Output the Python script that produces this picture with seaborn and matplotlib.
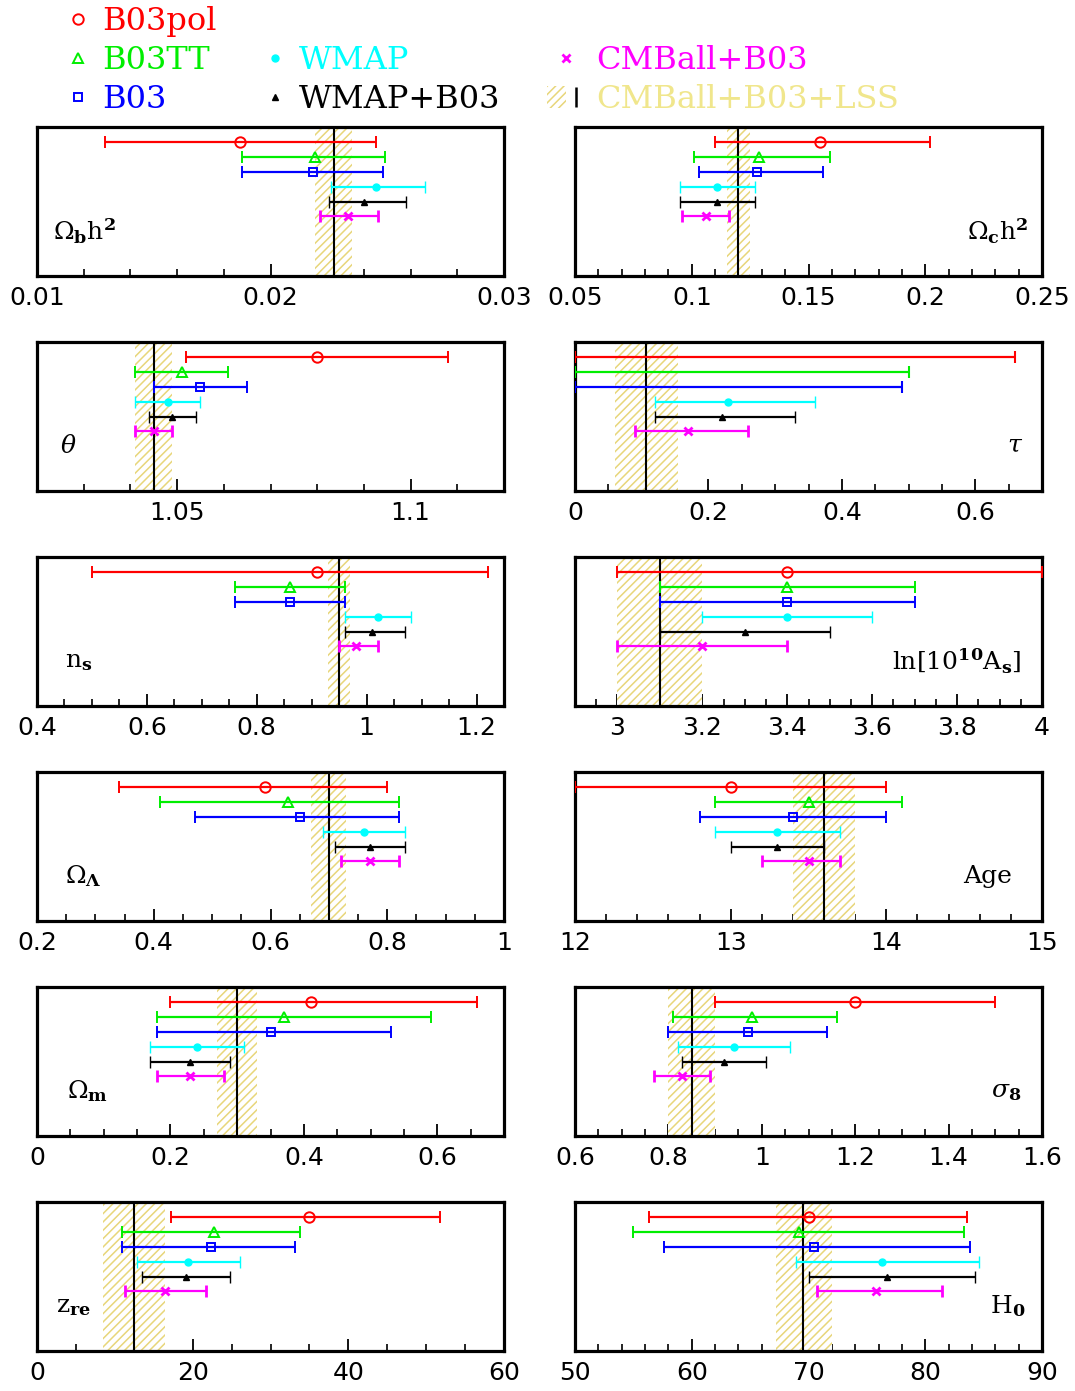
import numpy as np
import matplotlib
matplotlib.use("Agg")
import matplotlib.pyplot as plt
import seaborn as sns
from matplotlib import ticker
from matplotlib.lines import Line2D
from matplotlib.patches import Patch
from matplotlib.legend_handler import HandlerTuple

sns.set_theme(style="white")
plt.rcParams['font.family'] = ['DejaVu Sans']
plt.rcParams['mathtext.fontset'] = 'dejavuserif'
plt.rcParams['hatch.linewidth'] = 1.1

# parameters, one panel each (left column first, row by row)
labels = ['Ω$_{\\mathbf{b}}$h$^{\\mathbf{2}}$', 'Ω$_{\\mathbf{c}}$h$^{\\mathbf{2}}$',
          r'$\theta$', r'$\tau$',
          'n$_{\\mathbf{s}}$', 'ln[10$^{\\mathbf{10}}$A$_{\\mathbf{s}}$]',
          'Ω$_{\\mathbf{\\Lambda}}$', 'Age',
          'Ω$_{\\mathbf{m}}$', r'$\sigma_{\mathbf{8}}$',
          'z$_{\\mathbf{re}}$', 'H$_{\\mathbf{0}}$']
xlims = [(0.01, 0.03), (0.05, 0.25), (1.02, 1.12), (0.0, 0.7), (0.4, 1.25), (2.9, 4.0),
         (0.2, 1.0), (12, 15), (0.0, 0.7), (0.6, 1.6), (0, 60), (50, 90)]
major_step = [0.01, 0.05, 0.05, 0.2, 0.2, 0.2, 0.2, 1, 0.2, 0.2, 20, 10]
minor_step = [0.002, 0.01, 0.01, 0.05, 0.05, 0.05, 0.05, 0.2, 0.05, 0.05, 5, 2]

nan = np.nan
# lower end / best value / upper end of each dataset, one entry per parameter
b03pol_lo = [0.0129, 0.110, 1.052, 0.0, 0.50, 3.0, 0.34, 12.0, 0.20, 0.90, 17.2, 56.3]
b03pol_mid = [0.0187, 0.155, 1.080, nan, 0.91, 3.4, 0.59, 13.0, 0.41, 1.20, 35.0, 70.0]
b03pol_hi = [0.0245, 0.202, 1.108, 0.66, 1.22, 4.0, 0.80, 14.0, 0.66, 1.50, 51.8, 83.6]
b03tt_lo = [0.0188, 0.101, 1.041, 0.0, 0.76, 3.1, 0.41, 12.9, 0.18, 0.81, 10.9, 55.0]
b03tt_mid = [0.0219, 0.129, 1.051, nan, 0.86, 3.4, 0.63, 13.5, 0.37, 0.98, 22.7, 69.2]
b03tt_hi = [0.0249, 0.159, 1.061, 0.50, 0.96, 3.7, 0.82, 14.1, 0.59, 1.16, 33.8, 83.3]
b03_lo = [0.0188, 0.103, 1.045, 0.0, 0.76, 3.1, 0.47, 12.8, 0.18, 0.80, 10.9, 57.6]
b03_mid = [0.0218, 0.128, 1.055, nan, 0.86, 3.4, 0.65, 13.4, 0.35, 0.97, 22.4, 70.5]
b03_hi = [0.0248, 0.156, 1.065, 0.49, 0.96, 3.7, 0.82, 14.0, 0.53, 1.14, 33.1, 83.8]
wmap_lo = [0.0226, 0.095, 1.041, 0.12, 0.96, 3.2, 0.69, 12.9, 0.17, 0.82, 12.8, 68.9]
wmap_mid = [0.0245, 0.111, 1.048, 0.23, 1.02, 3.4, 0.76, 13.3, 0.24, 0.94, 19.4, 76.3]
wmap_hi = [0.0266, 0.127, 1.055, 0.36, 1.08, 3.6, 0.83, 13.7, 0.31, 1.06, 26.1, 84.6]
wmapb03_lo = [0.0225, 0.095, 1.044, 0.12, 0.96, 3.1, 0.71, 13.0, 0.17, 0.83, 13.5, 70.0]
wmapb03_mid = [0.0240, 0.111, 1.049, 0.22, 1.01, 3.3, 0.77, 13.3, 0.23, 0.92, 19.2, 76.7]
wmapb03_hi = [0.0258, 0.127, 1.054, 0.33, 1.07, 3.5, 0.83, 13.6, 0.29, 1.01, 24.8, 84.3]
cmball_lo = [0.0221, 0.096, 1.041, 0.09, 0.95, 3.0, 0.72, 13.2, 0.18, 0.77, 11.3, 70.7]
cmball_mid = [0.0233, 0.106, 1.045, 0.17, 0.98, 3.2, 0.77, 13.5, 0.23, 0.83, 16.4, 75.8]
cmball_hi = [0.0246, 0.116, 1.049, 0.26, 1.02, 3.4, 0.82, 13.7, 0.28, 0.89, 21.7, 81.4]
# CMBall+B03+LSS: hatched band and best value line
lss_lo = [0.0219, 0.115, 1.041, 0.06, 0.93, 3.0, 0.67, 13.4, 0.27, 0.80, 8.5, 67.2]
lss_mid = [0.0227, 0.120, 1.045, 0.107, 0.95, 3.1, 0.70, 13.6, 0.30, 0.85, 12.4, 69.5]
lss_hi = [0.0235, 0.125, 1.049, 0.155, 0.97, 3.2, 0.73, 13.8, 0.33, 0.90, 16.4, 72.0]

series = [
    ("B03pol", b03pol_lo, b03pol_mid, b03pol_hi, "#ff0000", "o", 7.5, "none", 1.4),
    ("B03TT", b03tt_lo, b03tt_mid, b03tt_hi, "#00ee00", "^", 7.5, "none", 1.4),
    ("B03", b03_lo, b03_mid, b03_hi, "#0000ff", "s", 6, "none", 1.4),
    ("WMAP", wmap_lo, wmap_mid, wmap_hi, "#00ffff", "o", 5, "#00ffff", 1),
    ("WMAP+B03", wmapb03_lo, wmapb03_mid, wmapb03_hi, "black", "^", 4, "black", 1),
    ("CMBall+B03", cmball_lo, cmball_mid, cmball_hi, "#ff00ff", "x", 6, "#ff00ff", 2),
]
hatch_col = "#e8d67a"
lss_text = "#f0e68c"

fig = plt.figure(figsize=(10.75, 13.91), dpi=100)
W, H = 1075, 1391
axes = []
for k in range(12):
    row, col = divmod(k, 2)
    x0 = 37 if col == 0 else 575
    top = 127 + 215 * row
    axes.append(fig.add_axes([x0 / W, 1 - (top + 149) / H, 467 / W, 149 / H]))

fmt = ticker.FuncFormatter(lambda v, p: f"{round(v, 6):g}")
label_x = [0.035, 0.97, 0.05, 0.96, 0.06, 0.955, 0.06, 0.935, 0.065, 0.955, 0.04, 0.965]

for k, ax in enumerate(axes):
    ax.axvspan(lss_lo[k], lss_hi[k], facecolor="white", edgecolor=hatch_col,
               hatch="////", lw=0, zorder=1)
    ax.axvline(lss_mid[k], color="black", lw=1.5, zorder=2)
    for j, (name, lo, mid, hi, c, m, ms, mfc, mew) in enumerate(series):
        y = 9 - j
        if np.isnan(mid[k]):
            ax.errorbar(hi[k], y, xerr=[[hi[k] - lo[k]], [0]], fmt="none", ecolor=c,
                        elinewidth=1.6, capsize=4, capthick=1.5, zorder=3)
        else:
            ax.errorbar(mid[k], y, xerr=[[mid[k] - lo[k]], [hi[k] - mid[k]]], fmt=m,
                        color=c, ms=ms, mfc=mfc, mew=mew, elinewidth=1.6, capsize=4,
                        capthick=1.5, zorder=3)
    ax.set_xlim(*xlims[k])
    ax.set_ylim(0, 10)
    ax.set_yticks([])
    ax.xaxis.set_major_locator(ticker.MultipleLocator(major_step[k]))
    ax.xaxis.set_minor_locator(ticker.MultipleLocator(minor_step[k]))
    ax.xaxis.set_major_formatter(fmt)
    ax.tick_params(axis="x", which="both", direction="in", bottom=True, top=False,
                   colors="black", labelsize=18, pad=7)
    ax.tick_params(axis="x", which="major", length=9, width=1.3)
    ax.tick_params(axis="x", which="minor", length=5, width=1.2)
    for sp in ax.spines.values():
        sp.set_color("black")
        sp.set_linewidth(2.3)
    right = k % 2 == 1
    ax.text(label_x[k], 0.30, labels[k], transform=ax.transAxes,
            ha="right" if right else "left", va="center", fontsize=18,
            family="DejaVu Serif", color="black")

# legend in three columns
handles = []
for name, lo, mid, hi, c, m, ms, mfc, mew in series:
    handles.append(Line2D([], [], ls="none", marker=m, color=c, ms=ms, mfc=mfc, mew=mew))
blank = Line2D([], [], ls="none")
lss_handle = (Patch(facecolor="white", edgecolor=hatch_col, hatch="////", lw=0),
              Line2D([], [], ls="none", marker="|", color="black", ms=14, mew=1.8))

cols = [
    ([handles[0], handles[1], handles[2]], ["B03pol", "B03TT", "B03"],
     ["#ff0000", "#00ee00", "#0000ff"], 65, 0.8),
    ([blank, handles[3], handles[4]], ["", "WMAP", "WMAP+B03"],
     ["black", "#00ffff", "black"], 262, 0.8),
    ([blank, handles[5], lss_handle], ["", "CMBall+B03", "CMBall+B03+LSS"],
     ["black", "#ff00ff", lss_text], 547, 1.2),
]
for hs, labs, tcols, xpx, hl in cols:
    leg = fig.legend(hs, labs, loc="upper left", bbox_to_anchor=(xpx / W, 1 - 6 / H),
                     frameon=False, borderpad=0, borderaxespad=0, handlelength=hl,
                     handletextpad=0.35, labelspacing=0.25,
                     prop={"family": "DejaVu Serif", "size": 23},
                     handler_map={tuple: HandlerTuple(ndivide=None)})
    for t, tc in zip(leg.get_texts(), tcols):
        t.set_color(tc)

fig.savefig("out.png", dpi=100)
